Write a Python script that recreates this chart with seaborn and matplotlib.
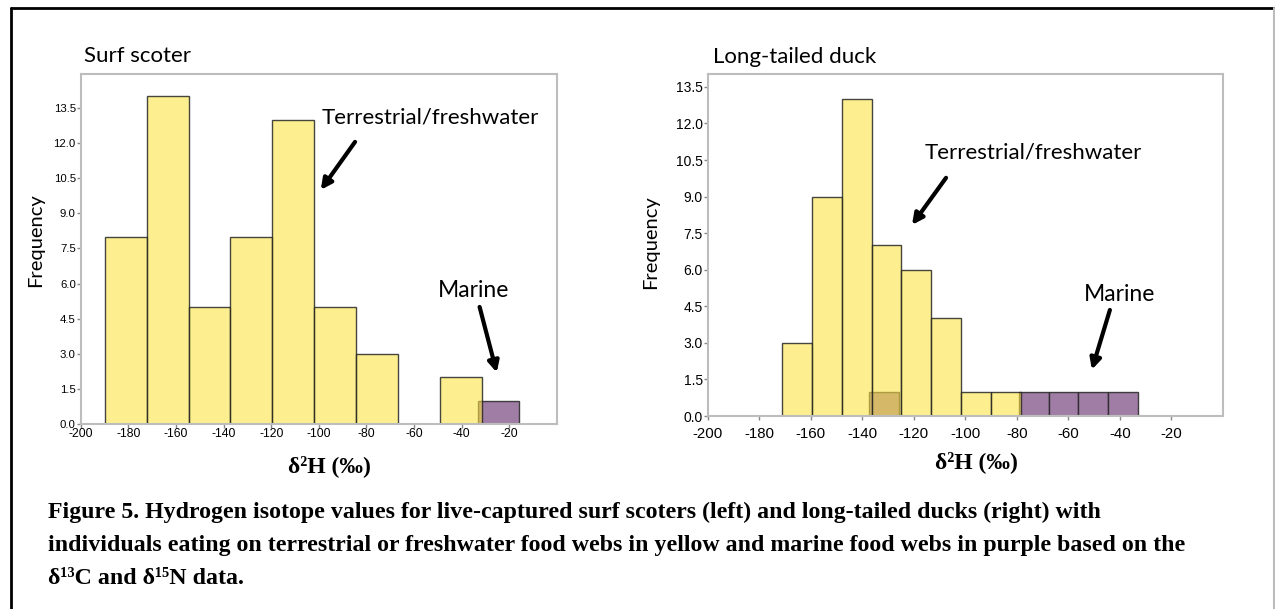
import numpy as np
import pandas as pd
import matplotlib
matplotlib.use("Agg")
import matplotlib.pyplot as plt
import seaborn as sns
from matplotlib.lines import Line2D

# ---------------- data ----------------
scoter_terr_edges = [-189.9, -172.3, -154.7, -137.1, -119.5, -101.9, -84.3, -66.7, -49.1, -31.5]
scoter_terr_counts = [8, 14, 5, 8, 13, 5, 3, 0, 2]
scoter_mar_edges = [-33.3, -16.0]
scoter_mar_counts = [1]

duck_terr_edges = [-171.2, -159.6, -148.0, -136.4, -124.8, -113.2, -101.6, -90.0, -78.4]
duck_terr_counts = [3, 9, 13, 7, 6, 4, 1, 1]
duck_mar_edges = [-137.3, -125.7, -114.1, -102.5, -90.9, -79.3, -67.7, -56.1, -44.5, -32.9]
duck_mar_counts = [1, 0, 0, 0, 0, 1, 1, 1, 1]

x_ticks = [-200, -180, -160, -140, -120, -100, -80, -60, -40, -20]
y_ticks = [0.0, 1.5, 3.0, 4.5, 6.0, 7.5, 9.0, 10.5, 12.0, 13.5]

titles = ["Surf scoter", "Long-tailed duck"]
terr_label = "Terrestrial/freshwater"
mar_label = "Marine"
x_label = "δ²H (‰)"
y_label = "Frequency"
caption = [
    "Figure 5. Hydrogen isotope values for live-captured surf scoters (left) and long-tailed ducks (right) with",
    "individuals eating on terrestrial or freshwater food webs in yellow and marine food webs in purple based on the",
    "δ¹³C and δ¹⁵N data.",
]

# ---------------- style ----------------
sns.set_theme(style="white")
plt.rcParams["font.family"] = ["Liberation Sans", "DejaVu Sans"]
plt.rcParams["text.color"] = "black"
plt.rcParams["axes.labelcolor"] = "black"

YELLOW = "#FCE53E"
YELLOW_ALPHA = 0.58
PURPLE = "#A07DA5"
EDGE = (0.15, 0.15, 0.15, 0.85)
SPINE = "#bdbdbd"
CAL = ["Lato", "DejaVu Sans"]
SERIF = ["Liberation Serif", "DejaVu Serif"]

W, H = 1275, 609
fig = plt.figure(figsize=(W / 100, H / 100), dpi=100)


def fx(px):
    return px / W


def fy(py):
    return 1 - py / H


ax1 = fig.add_axes([fx(80.7), fy(424), fx(557) - fx(80.7), fy(74) - fy(424)])
ax2 = fig.add_axes([fx(707.7), fy(416), fx(1223) - fx(707.7), fy(74) - fy(416)])


def draw_hist(ax, edges, counts, color, alpha):
    e = [float(v) for v in edges]
    centers = [(a + b) / 2 for a, b in zip(e[:-1], e[1:])]
    df = pd.DataFrame({"x": centers, "w": counts})
    n0 = len(ax.patches)
    sns.histplot(data=df, x="x", weights="w", bins=e, ax=ax, color=color,
                 alpha=alpha, edgecolor=EDGE, linewidth=1.0, stat="count")
    for p in ax.patches[n0:]:
        if p.get_height() == 0:
            p.set_visible(False)


draw_hist(ax1, scoter_mar_edges, scoter_mar_counts, PURPLE, 1.0)
draw_hist(ax1, scoter_terr_edges, scoter_terr_counts, YELLOW, YELLOW_ALPHA)
draw_hist(ax2, duck_mar_edges, duck_mar_counts, PURPLE, 1.0)
draw_hist(ax2, duck_terr_edges, duck_terr_counts, YELLOW, YELLOW_ALPHA)

ax1.set_ylim(0, 14.95)
ax2.set_ylim(0, 14.03)

for ax, xsize, ysize, xpad in ((ax1, 8.8, 8.2, 0), (ax2, 10.8, 10, 5)):
    ax.set_xlim(-200, 0)
    ax.set_xticks(x_ticks)
    ax.set_xticklabels([str(t) for t in x_ticks])
    ax.set_yticks(y_ticks)
    ax.set_yticklabels([f"{t:.1f}" for t in y_ticks])
    ax.tick_params(axis="both", which="major", bottom=True, left=True,
                   length=3, width=1, color="#888888", labelcolor="black")
    ax.tick_params(axis="x", pad=xpad, labelsize=xsize)
    ax.tick_params(axis="y", pad=0.5, labelsize=ysize)
    for s in ax.spines.values():
        s.set_visible(True)
        s.set_color(SPINE)
        s.set_linewidth(1.5)
    ax.set_xlabel(x_label, fontsize=17, fontweight="bold", family=SERIF)
    ax.set_ylabel(y_label, fontsize=14.5, family=CAL)

ax1.xaxis.set_label_coords(0.523, -0.12)
ax1.yaxis.set_label_coords(-0.094, 0.526)
ax2.xaxis.set_label_coords(0.522, -0.134)
ax2.yaxis.set_label_coords(-0.11, 0.509)
for ax in (ax1, ax2):
    ax.xaxis.label.set_va("center")
    ax.yaxis.label.set_va("center")

# titles
fig.text(fx(84), fy(62), titles[0], fontsize=16, family=CAL, va="baseline", ha="left")
fig.text(fx(713), fy(63), titles[1], fontsize=16, family=CAL, va="baseline", ha="left")

# annotations
arrow = dict(arrowstyle="-|>", color="black", lw=3, mutation_scale=16, shrinkA=0, shrinkB=0)
ax1.text(-53.4, 13.1, terr_label, fontsize=16, family=CAL, ha="center", va="center")
ax1.annotate("", xy=(-99.2, 10.0), xytext=(-84.8, 12.05), arrowprops=arrow)
ax1.text(-35.0, 5.7, mar_label, fontsize=16.5, family=CAL, ha="center", va="center")
ax1.annotate("", xy=(-25.3, 2.2), xytext=(-32.5, 5.0), arrowprops=arrow)

ax2.text(-73.6, 10.8, terr_label, fontsize=16, family=CAL, ha="center", va="center")
ax2.annotate("", xy=(-120.7, 7.84), xytext=(-107.5, 9.77), arrowprops=arrow)
ax2.text(-40.0, 5.0, mar_label, fontsize=16.5, family=CAL, ha="center", va="center")
ax2.annotate("", xy=(-50.9, 1.9), xytext=(-43.9, 4.35), arrowprops=arrow)

# caption
for i, line in enumerate(caption):
    fig.text(fx(48), fy(518 + 33 * i), line, fontsize=17.2, fontweight="bold",
             family=SERIF, va="baseline", ha="left")

# figure frame
fig.add_artist(Line2D([fx(11), 1], [fy(8), fy(8)], color="black", lw=2))
fig.add_artist(Line2D([fx(11), fx(11)], [fy(8), 0], color="black", lw=2))
fig.add_artist(Line2D([fx(1274), fx(1274)], [fy(8), 0], color="#bbbbbb", lw=1.5))

fig.savefig("out.png", dpi=100)
